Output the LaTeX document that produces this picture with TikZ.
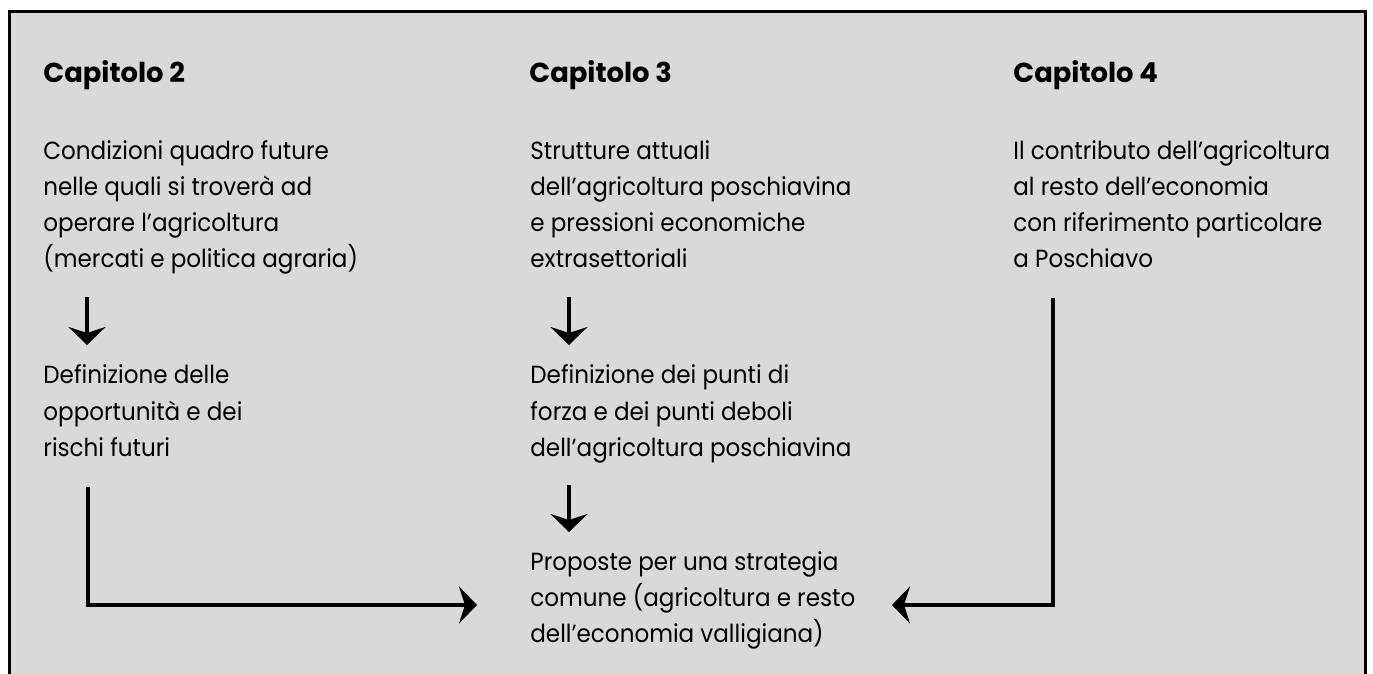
\documentclass[tikz,border=0pt]{standalone}
\usepackage{fontspec}
\setmainfont{Poppins}
\newfontfamily\bodyfont{Poppins}[FakeStretch=0.93]
\usetikzlibrary{arrows.meta}
\definecolor{panelgray}{HTML}{D9D9D9}
\begin{document}
\begin{tikzpicture}[x=0.5pt,y=-0.5pt,
  txt/.style={anchor=base west, inner sep=0pt, font=\bodyfont\fontsize{12.4}{18}\selectfont},
  chap/.style={anchor=base west, inner sep=0pt, font=\fontsize{13.7}{16}\selectfont\bfseries},
  conn/.style={line width=2pt, line join=miter, -{Stealth[length=9pt,width=18.5pt,inset=3pt]}},
  frame/.style={line width=1.5pt}
  ]
\useasboundingbox (0,0) rectangle (1373,674);
\clip (0,0) rectangle (1373,674);
\fill[white] (0,0) rectangle (1373,674);
\fill[panelgray] (9,11.5) rectangle (1365,700);
\draw[frame] (9,700) -- (9,11.5) -- (1365,11.5) -- (1365,700);

\node[chap] (h2) at (43,83) {Capitolo 2};
\node[chap] (h3) at (529,83) {Capitolo 3};
\node[chap] (h4) at (1013,83) {Capitolo 4};

\node[txt] (c2a) at (43,160) {\begin{tabular}[t]{@{}l@{}}Condizioni quadro future\\nelle quali si troverà ad\\operare l’agricoltura\\(mercati e politica agraria)\end{tabular}};
\node[txt] (c2b) at (43,384) {\begin{tabular}[t]{@{}l@{}}Definizione delle\\opportunità e dei\\rischi futuri\end{tabular}};

\node[txt] (c3a) at (530,160) {\begin{tabular}[t]{@{}l@{}}Strutture attuali\\dell’agricoltura poschiavina\\e pressioni economiche\\extrasettoriali\end{tabular}};
\node[txt] (c3b) at (530,384) {\begin{tabular}[t]{@{}l@{}}Definizione dei punti di\\forza e dei punti deboli\\dell’agricoltura poschiavina\end{tabular}};
\node[txt] (c3c) at (530,570) {\begin{tabular}[t]{@{}l@{}}Proposte per una strategia\\comune (agricoltura e resto\\dell’economia valligiana)\end{tabular}};

\node[txt] (c4a) at (1013,160) {\begin{tabular}[t]{@{}l@{}}Il contributo dell’agricoltura\\al resto dell’economia\\con riferimento particolare\\a Poschiavo\end{tabular}};

\coordinate (a1s) at (87,297);
\coordinate (a1e) at (87,345);
\coordinate (a2s) at (569,297);
\coordinate (a2e) at (569,345);
\coordinate (a3s) at (569,485);
\coordinate (a3e) at (569,532);
\coordinate (lfs) at (88,487);
\coordinate (lfe) at (477,605);
\coordinate (rts) at (1053,298);
\coordinate (rte) at (892,605);

\draw[conn] (a1s) -- (a1e);
\draw[conn] (a2s) -- (a2e);
\draw[conn] (a3s) -- (a3e);
\draw[conn] (lfs) |- (lfe);
\draw[conn] (rts) |- (rte);
\end{tikzpicture}
\end{document}
